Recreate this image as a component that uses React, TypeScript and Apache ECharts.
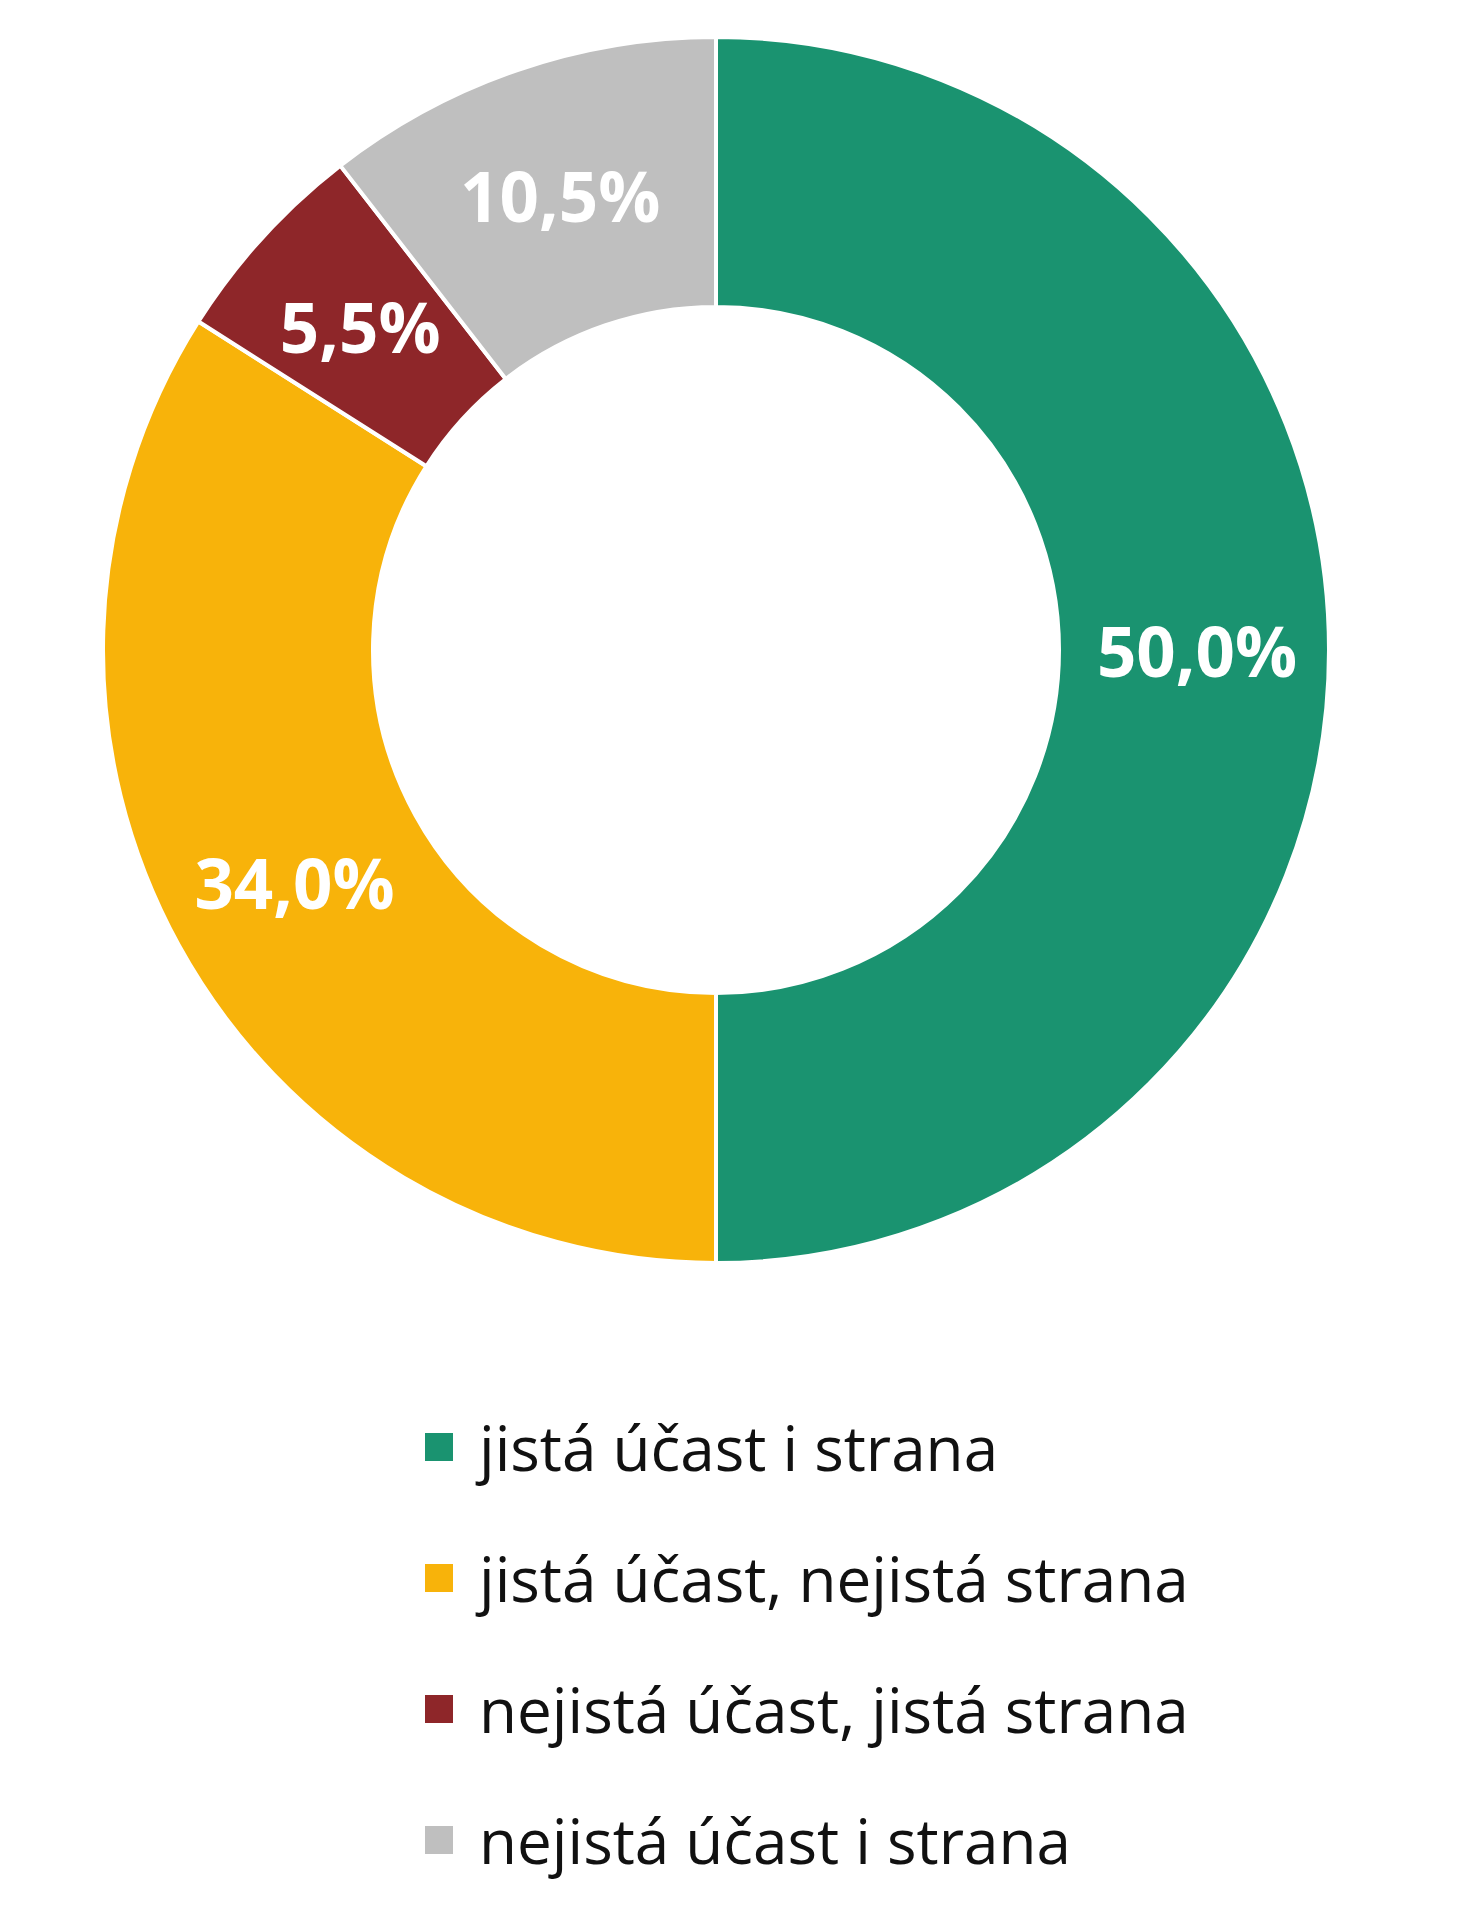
import React, { useEffect, useRef } from "react";
import * as echarts from "echarts";

const categories = [
  "jistá účast i strana",
  "jistá účast, nejistá strana",
  "nejistá účast, jistá strana",
  "nejistá účast i strana",
];
const values = [50.0, 34.0, 5.5, 10.5];
const colors = ["#1A9370", "#F8B30A", "#8E2629", "#BFBFBF"];

export default function App() {
  const ref = useRef<HTMLDivElement>(null);
  useEffect(() => {
    if (!ref.current) return;
    const chart = echarts.init(ref.current, null, { renderer: "svg" });
    chart.setOption({
      animation: false,
      backgroundColor: "#ffffff",
      color: colors,
      legend: {
        orient: "vertical",
        left: 423,
        top: 1416,
        padding: 0,
        icon: "rect",
        itemWidth: 30,
        itemHeight: 30,
        itemGap: 69,
        data: categories,
        textStyle: {
          fontFamily: "Open Sans",
          fontSize: 62,
          lineHeight: 62,
          color: "#111111",
          padding: [0, 0, 0, 20],
        },
      },
      series: [
        {
          type: "pie",
          center: [716, 650],
          radius: [343, 613],
          startAngle: 90,
          clockwise: true,
          avoidLabelOverlap: false,
          itemStyle: { borderColor: "#ffffff", borderWidth: 4 },
          label: {
            show: true,
            position: "inside",
            formatter: (p: any) => p.value.toFixed(1).replace(".", ",") + "%",
            fontFamily: "Open Sans",
            fontWeight: "bold",
            fontSize: 69,
            color: "#ffffff",
          },
          labelLine: { show: false },
          emphasis: { disabled: true },
          data: categories.map((name, i) => ({ name, value: values[i] })),
        },
      ],
    });
    return () => chart.dispose();
  }, []);
  return (
    <div
      ref={ref}
      style={{ position: "absolute", left: 0, top: 0, width: 1462, height: 1920 }}
    />
  );
}
